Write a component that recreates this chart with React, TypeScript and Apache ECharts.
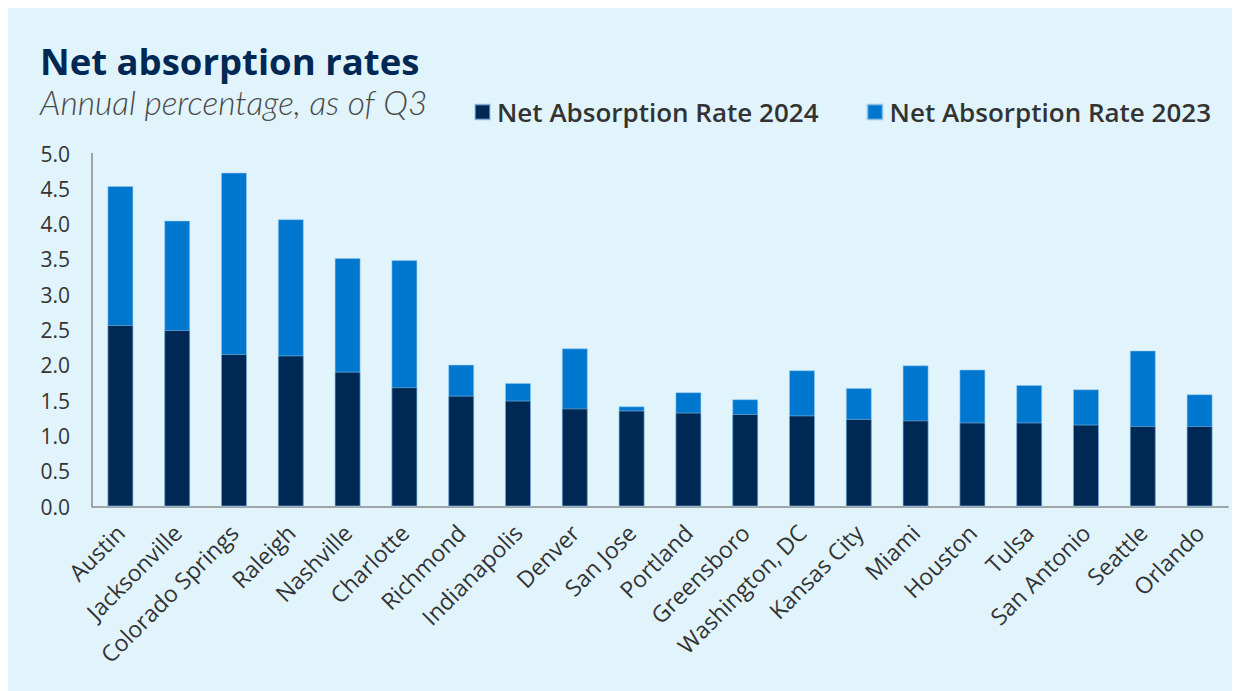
import React, { useEffect, useRef } from "react";
import * as echarts from "echarts";

const cities = [
  "Austin", "Jacksonville", "Colorado Springs", "Raleigh", "Nashville", "Charlotte",
  "Richmond", "Indianapolis", "Denver", "San Jose", "Portland", "Greensboro",
  "Washington, DC", "Kansas City", "Miami", "Houston", "Tulsa", "San Antonio",
  "Seattle", "Orlando",
];
const rate2024 = [2.57, 2.5, 2.16, 2.14, 1.91, 1.69, 1.57, 1.5, 1.39, 1.36, 1.33, 1.31, 1.29, 1.24, 1.22, 1.19, 1.19, 1.16, 1.14, 1.14];
const rate2023 = [4.54, 4.05, 4.73, 4.07, 3.52, 3.49, 2.01, 1.75, 2.24, 1.42, 1.62, 1.52, 1.93, 1.68, 2.0, 1.94, 1.72, 1.66, 2.21, 1.59];
const seriesNames = ["Net Absorption Rate 2024", "Net Absorption Rate 2023"];
const titleText = "Net absorption rates";
const subtitleText = "Annual percentage, as of Q3";

export default function App() {
  const ref = useRef<HTMLDivElement>(null);
  useEffect(() => {
    if (!ref.current) return;
    const chart = echarts.init(ref.current, undefined, { renderer: "svg" });
    const border = { borderColor: "rgba(150,200,235,0.55)", borderWidth: 1 };
    chart.setOption({
      animation: false,
      backgroundColor: "#e1f4fc",
      title: [
        {
          text: titleText,
          left: 32,
          top: 38,
          padding: 0,
          textStyle: { fontFamily: "Open Sans", fontWeight: "bold", fontSize: 36.5, color: "#002855", lineHeight: 30 },
        },
        {
          text: subtitleText,
          left: 32,
          top: 80,
          padding: 0,
          textStyle: { fontFamily: "Lato", fontStyle: "italic", fontWeight: 300, fontSize: 33.5, color: "#4a4a4a", lineHeight: 28 },
        },
      ],
      legend: {
        data: seriesNames,
        left: 466,
        top: 91,
        padding: 0,
        icon: "rect",
        itemWidth: 15,
        itemHeight: 15,
        itemGap: 48,
        textStyle: { fontFamily: "Open Sans", fontWeight: 600, fontSize: 26, color: "#333333", padding: [0, 0, 0, 2] },
      },
      grid: { left: 84, right: 12, top: 145.5, bottom: 184.5, containLabel: false },
      xAxis: {
        type: "category",
        data: cities,
        axisLine: { lineStyle: { color: "#8a8a8a", width: 1.5 } },
        axisTick: { show: false },
        axisLabel: { rotate: 45, fontFamily: "Open Sans", fontSize: 23, color: "#333333", interval: 0, margin: 22 },
      },
      yAxis: {
        type: "value",
        min: 0,
        max: 5,
        interval: 0.5,
        axisLine: { show: true, lineStyle: { color: "#8a8a8a", width: 1.5 } },
        axisTick: { show: false },
        splitLine: { show: false },
        axisLabel: {
          fontFamily: "Open Sans",
          fontSize: 21,
          color: "#333333",
          margin: 22,
          formatter: (v: number) => v.toFixed(1),
        },
      },
      series: [
        {
          name: seriesNames[1],
          type: "bar",
          data: rate2023,
          barWidth: 26,
          barGap: "-100%",
          itemStyle: { color: "#0077cf", ...border },
        },
        {
          name: seriesNames[0],
          type: "bar",
          data: rate2024,
          barWidth: 26,
          barGap: "-100%",
          itemStyle: { color: "#002855", ...border },
        },
      ],
    });
    return () => chart.dispose();
  }, []);
  return <div ref={ref} style={{ width: 1232, height: 683 }} />;
}
